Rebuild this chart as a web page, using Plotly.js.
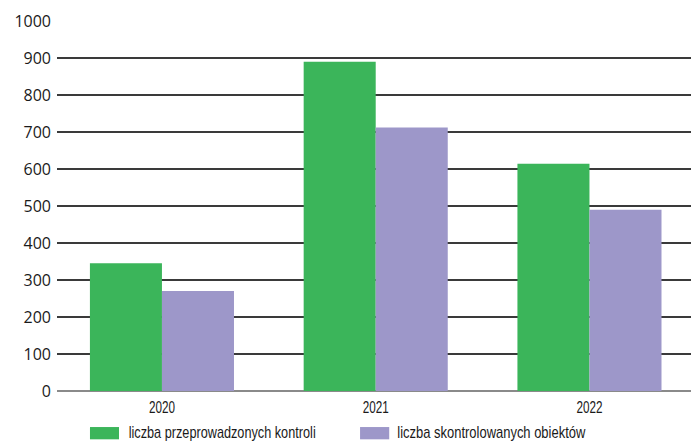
<!DOCTYPE html>
<html>
<head>
<meta charset="utf-8">
<script src="https://cdn.plot.ly/plotly-3.0.1.min.js"></script>
<style>
html,body{margin:0;padding:0;background:#fff;}
#chart{width:691px;height:441px;}
</style>
</head>
<body>
<div id="chart"></div>
<script>
const categories = ["2020", "2021", "2022"];
const seriesNames = ["liczba przeprowadzonych kontroli", "liczba skontrolowanych obiektów"];
const kontrole = [345, 890, 614];
const obiekty = [270, 712, 490];
const yTicks = [0, 100, 200, 300, 400, 500, 600, 700, 800, 900, 1000];
const colors = ["#3bb55a", "#9d97c9"];

const traces = [
  {type: "bar", x: categories, y: kontrole, name: seriesNames[0], marker: {color: colors[0]}, hoverinfo: "x+y"},
  {type: "bar", x: categories, y: obiekty, name: seriesNames[1], marker: {color: colors[1]}, hoverinfo: "x+y"}
];

const narrow = "Liberation Sans Narrow, Liberation Sans, Arial, sans-serif";
const legendItems = [
  {x0: 0.052, x1: 0.0978, tx: 0.2597, w: 187},
  {x0: 0.478, x1: 0.524, tx: 0.6848, w: 188}
];
const shapes = legendItems.map((it, i) => ({
  type: "rect", xref: "paper", yref: "paper", x0: it.x0, x1: it.x1, y0: -0.0974, y1: -0.1306,
  fillcolor: colors[i], line: {width: 0}
}));
const annotations = legendItems.map((it, i) => ({
  xref: "paper", yref: "paper", x: it.tx, y: -0.1112, xanchor: "center", yanchor: "middle",
  text: seriesNames[i], showarrow: false,
  font: {family: narrow, size: 17, color: "#1a1a1a"}
}));

const layout = {
  width: 691, height: 441,
  margin: {l: 57, r: 0, t: 21, b: 50},
  paper_bgcolor: "#fff", plot_bgcolor: "#fff",
  barmode: "group", bargap: 0.326, bargroupgap: 0,
  showlegend: false,
  xaxis: {
    type: "category", range: [-0.491, 2.475], showgrid: false, zeroline: false,
    showline: false, ticks: "", ticklabelstandoff: 5,
    tickfont: {family: narrow, size: 16, color: "#1a1a1a"}
  },
  yaxis: {
    range: [0, 1000], tickvals: yTicks, ticktext: yTicks.map(String),
    showgrid: true, gridcolor: "#3a3a3a", gridwidth: 1.5,
    zeroline: true, zerolinecolor: "#8a8a8a", zerolinewidth: 2,
    showline: false, ticks: "", ticklabelstandoff: 5,
    tickfont: {family: "Open Sans, sans-serif", size: 16, color: "#1a1a1a"}
  },
  shapes: shapes,
  annotations: annotations
};

Plotly.newPlot("chart", traces, layout, {displayModeBar: false, staticPlot: true}).then(gd => {
  // condense text to mimic the narrow font of the original
  gd.querySelectorAll(".xtick text").forEach(t => {
    t.setAttribute("textLength", "26");
    t.setAttribute("lengthAdjust", "spacingAndGlyphs");
  });
  gd.querySelectorAll("text.annotation-text").forEach((t, i) => {
    t.setAttribute("textLength", String(legendItems[i].w));
    t.setAttribute("lengthAdjust", "spacingAndGlyphs");
  });
});
</script>
</body>
</html>
